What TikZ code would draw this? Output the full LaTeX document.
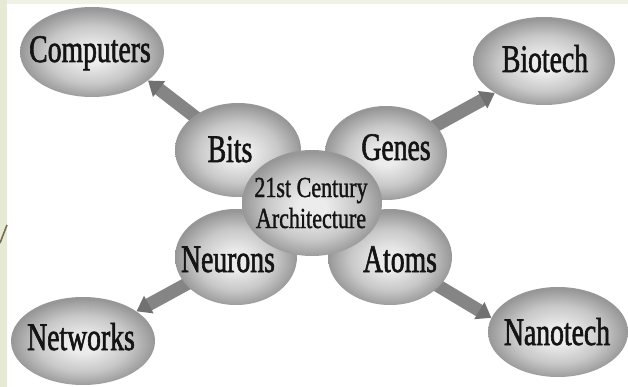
\documentclass[tikz,border=0pt]{standalone}
\usepackage{fontspec}
\setmainfont{Liberation Serif}
\newfontfamily\lblfont[FakeStretch=0.71,FakeBold=1.5]{Liberation Serif}
\newfontfamily\ctrfont[FakeStretch=0.76,FakeBold=1.2]{Liberation Serif}
\usetikzlibrary{shapes.geometric,arrows.meta}
\definecolor{cream}{HTML}{E6E9D4}
\definecolor{creamtop}{HTML}{F1F2E6}
\definecolor{conncol}{HTML}{858585}
\definecolor{slash}{HTML}{7A6A50}
\definecolor{orbin}{HTML}{ECECEC}
\definecolor{orbmid}{HTML}{C8C8C8}
\definecolor{orbout}{HTML}{979797}
\pgfdeclareradialshading{orb}{\pgfpoint{0bp}{-2bp}}{%
  color(0bp)=(orbin); color(5bp)=(orbin); color(16bp)=(orbmid);
  color(25bp)=(orbout); color(50bp)=(orbout)}
\pgfdeclarelayer{back}
\pgfdeclarelayer{bg}
\pgfsetlayers{back,bg,main}
\tikzset{
  orbnode/.style={ellipse, shading=orb, draw=none, inner sep=0pt,
    minimum width=#1},
  lbl/.style={anchor=base, inner sep=0pt, text=black!92,
    font=\lblfont\fontsize{39}{39}\selectfont},
  ctr/.style={anchor=base, inner sep=0pt, text=black!92,
    font=\ctrfont\fontsize{29}{29}\selectfont},
  conn/.style={draw=conncol, line width=13pt,
    -{Triangle[width=19pt,length=14pt,fill=conncol!85!black,color=conncol!85!black]}},
}
\begin{document}
\begin{tikzpicture}[x=1pt,y=-1pt]
\useasboundingbox (0,0) rectangle (628,387);
\begin{pgfonlayer}{back}
  \fill[cream] (0,0) rectangle (628,387);
  \fill[creamtop] (7,0) rectangle (628,4);
  \fill[white] (7,4) rectangle (628,387);
  \draw[slash, line width=1.6pt] (0,243) -- (7,225);
\end{pgfonlayer}

% outer ellipses
\node[orbnode=144pt, minimum height=90pt] (comp) at (92,52) {};
\node[orbnode=142pt, minimum height=88pt] (bio) at (544,61) {};
\node[orbnode=144pt, minimum height=88pt] (net) at (83,341) {};
\node[orbnode=140pt, minimum height=90pt] (nano) at (558,332) {};

% inner ellipses
\node[orbnode=126pt, minimum height=94pt] (bits) at (238,150) {};
\node[orbnode=122pt, minimum height=94pt] (genes) at (386,153) {};
\node[orbnode=122pt, minimum height=96pt] (neur) at (236,257) {};
\node[orbnode=124pt, minimum height=96pt] (atoms) at (390,257) {};

% centre ellipse
\node[orbnode=140pt, minimum height=106pt] (core) at (312,203) {};

% connectors
\begin{pgfonlayer}{bg}
  \draw[conn] (bits.center) -- (comp.-27);
  \draw[conn] (genes.center) -- (bio.213);
  \draw[conn] (neur.center) -- (net.29.5);
  \draw[conn] (atoms.center) -- (nano.168);
\end{pgfonlayer}

% labels
\node[lbl] (tcomp) at (90,62) {Computers};
\node[lbl] (tbio) at (545,72) {Biotech};
\node[lbl] (tnet) at (81,350) {Networks};
\node[lbl] (tnano) at (557,345) {Nanotech};
\node[lbl] (tbits) at (230,162) {Bits};
\node[lbl] (tgenes) at (396,160) {Genes};
\node[lbl] (tneur) at (228,272) {Neurons};
\node[lbl] (tatoms) at (400,272) {Atoms};
\node[ctr] (tcore1) at (311,197) {21st Century};
\node[ctr] (tcore2) at (311,228) {Architecture};
\end{tikzpicture}
\end{document}
